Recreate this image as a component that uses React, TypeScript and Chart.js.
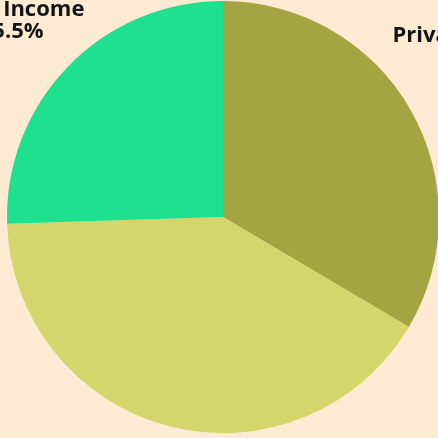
import React, { useEffect, useRef } from "react";
import { Chart, registerables } from "chart.js";

Chart.register(...registerables);

const categories = ["Private Equity", "Public Equity", "Fixed Income"];
const shares = [33.5, 41.0, 25.5];
const sliceColors = ["#A5A442", "#D4D56A", "#1FE08F"];

const labelNudges: [number, number][] = [
  [-3, -28],
  [0, 0],
  [-5, 4],
];

const labelPlugin = {
  id: "outerLabels",
  afterDatasetsDraw(chart: any) {
    const ctx = chart.ctx;
    const meta = chart.getDatasetMeta(0);
    const data = chart.data.datasets[0].data as number[];
    const labels = chart.data.labels as string[];
    ctx.save();
    ctx.font = "bold 22px 'Open Sans', sans-serif";
    ctx.fillStyle = "#141414";
    ctx.textAlign = "center";
    ctx.textBaseline = "middle";
    meta.data.forEach((arc: any, i: number) => {
      const p = arc.getProps(["x", "y", "startAngle", "endAngle", "outerRadius"], true);
      const mid = (p.startAngle + p.endAngle) / 2;
      const d = p.outerRadius * 1.33;
      const [nx, ny] = labelNudges[i] || [0, 0];
      const x = p.x + Math.cos(mid) * d + nx;
      const y = p.y + Math.sin(mid) * d + ny;
      ctx.fillText(labels[i], x, y - 11);
      ctx.fillText(data[i].toFixed(1) + "%", x, y + 11);
    });
    ctx.restore();
  },
};

export default function App() {
  const ref = useRef<HTMLCanvasElement>(null);
  useEffect(() => {
    document.body.style.margin = "0";
    const chart = new Chart(ref.current!, {
      type: "pie",
      data: {
        labels: categories,
        datasets: [
          {
            data: shares,
            backgroundColor: sliceColors,
            borderWidth: 0,
          },
        ],
      },
      options: {
        responsive: false,
        animation: false,
        layout: { padding: { left: 7, top: 1, right: 1, bottom: 5 } },
        plugins: { legend: { display: false }, tooltip: { enabled: false } },
      },
      plugins: [labelPlugin],
    });
    return () => chart.destroy();
  }, []);
  return (
    <div
      style={{
        position: "absolute",
        left: 0,
        top: 0,
        width: 438,
        height: 438,
        overflow: "hidden",
        background: "#FCEBD2",
      }}
    >
      <canvas ref={ref} width={440} height={438} style={{ display: "block" }} />
    </div>
  );
}
